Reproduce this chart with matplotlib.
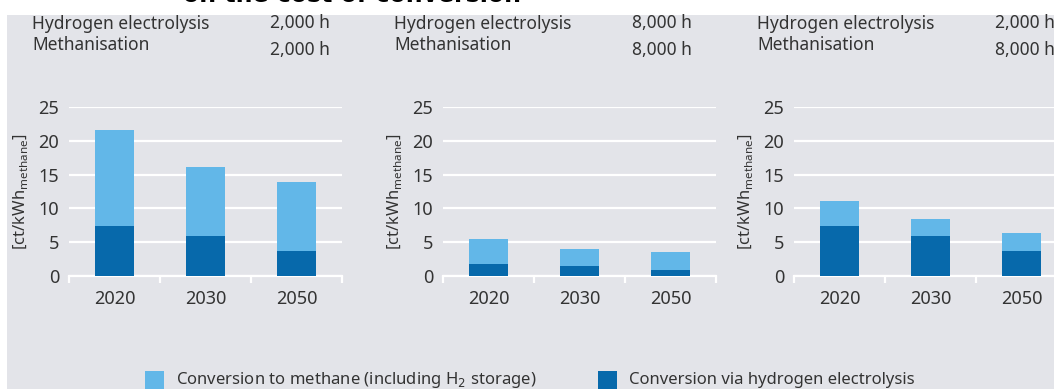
import matplotlib.pyplot as plt
from matplotlib.patches import Rectangle

plt.rcParams['font.family'] = ['Noto Sans', 'DejaVu Sans']

years = ['2020', '2030', '2050']

# full-load hours per scenario: (electrolysis, methanisation)
hours_electrolysis = ['2,000 h', '8,000 h', '2,000 h']
hours_methanisation = ['2,000 h', '8,000 h', '8,000 h']

# cost components in ct/kWh_methane
electrolysis = [
    [7.4, 5.9, 3.7],
    [1.75, 1.45, 0.85],
    [7.4, 5.9, 3.7],
]
methane = [
    [14.2, 10.2, 10.25],
    [3.65, 2.6, 2.7],
    [3.7, 2.6, 2.65],
]

light_blue = '#62b7e8'
dark_blue = '#0769ab'
bg = '#e3e4e9'
text_col = '#333333'

fig = plt.figure(figsize=(10.54, 3.89), dpi=100)
fig.patch.set_facecolor('white')
W, H = 1054, 389

# grey panel behind everything
fig.patches.append(Rectangle((7 / W, 0), 1, (H - 15) / H, transform=fig.transFigure,
                             facecolor=bg, edgecolor='none', zorder=-10))

# heading runs off the top edge
fig.text(183 / W, 1 - 2 / H, 'on the cost of conversion', fontsize=17,
         fontweight='bold', family='DejaVu Sans', color='black',
         va='baseline', ha='left')

axes_left = [69, 443, 794]
axes_width = 273
bottom = (H - 276) / H
height = (276 - 107) / H
text_x = [32, 394, 757]
hours_x = [330, 692, 1055]

for i in range(3):
    ax = fig.add_axes([axes_left[i] / W, bottom, axes_width / W, height])
    ax.set_facecolor('none')
    x = range(3)
    ax.bar(x, electrolysis[i], width=0.42, color=dark_blue, zorder=3)
    ax.bar(x, methane[i], width=0.42, bottom=electrolysis[i], color=light_blue, zorder=3)

    ax.set_xlim(-0.5, 2.5)
    ax.set_ylim(0, 25)
    ax.set_yticks([0, 5, 10, 15, 20, 25])
    ax.grid(axis='y', color='white', linewidth=1.6, zorder=0)
    ax.set_axisbelow(True)
    for s in ['top', 'right', 'left']:
        ax.spines[s].set_visible(False)
    ax.spines['bottom'].set_color('white')
    ax.spines['bottom'].set_linewidth(1.6)

    ax.set_xticks([-0.5, 0.5, 1.5, 2.5])
    ax.set_xticklabels([])
    ax.set_xticks(x, minor=True)
    ax.set_xticklabels(years, minor=True)
    ax.tick_params(axis='x', which='major', length=5, width=1.6, color='white', direction='out')
    ax.tick_params(axis='x', which='minor', length=0, pad=10, labelsize=13, labelcolor=text_col)
    ax.tick_params(axis='y', length=0, pad=7, labelsize=13, labelcolor=text_col)
    ax.set_ylabel(r'[ct/kWh$_{\mathregular{methane}}$]', fontsize=12, color=text_col, labelpad=6)

    fig.text(text_x[i] / W, 1 - 24 / H, 'Hydrogen electrolysis', fontsize=12.5,
             color=text_col, va='center', ha='left')
    fig.text(text_x[i] / W, 1 - 45 / H, 'Methanisation', fontsize=12.5,
             color=text_col, va='center', ha='left')
    fig.text(hours_x[i] / W, 1 - 23 / H, hours_electrolysis[i], fontsize=12.5,
             color=text_col, va='center', ha='right')
    fig.text(hours_x[i] / W, 1 - 50 / H, hours_methanisation[i], fontsize=12.5,
             color=text_col, va='center', ha='right')

# legend along the bottom edge
legend_items = [
    (145, light_blue, 'Conversion to methane (including H$_2$ storage)'),
    (598, dark_blue, 'Conversion via hydrogen electrolysis'),
]
for px, col, label in legend_items:
    fig.patches.append(Rectangle((px / W, 0), 19 / W, 18 / H, transform=fig.transFigure,
                                 facecolor=col, edgecolor='none'))
    fig.text((px + 31) / W, 9 / H, label, fontsize=12, color=text_col,
             va='center', ha='left')

fig.savefig('out.png', dpi=100, facecolor=fig.get_facecolor())
